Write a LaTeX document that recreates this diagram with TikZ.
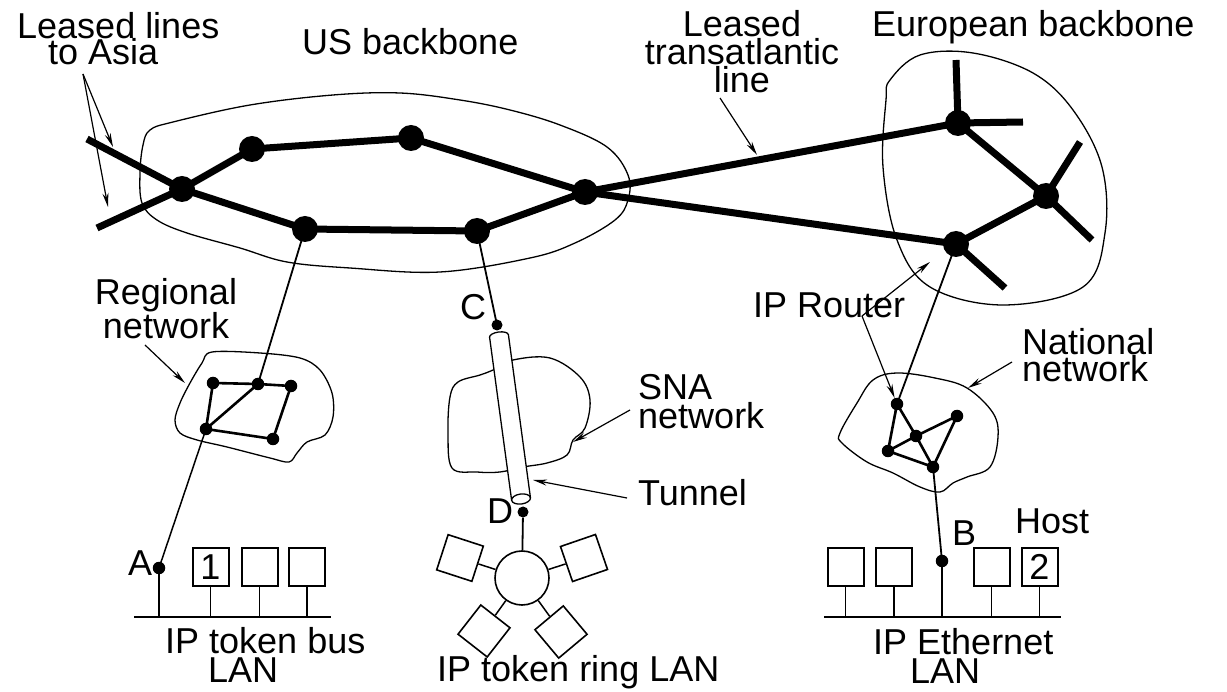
\documentclass[tikz,border=0pt]{standalone}
\usepackage{fontspec}
\setmainfont{Liberation Sans}
\usetikzlibrary{arrows.meta,backgrounds}
\newcommand\labelfont{\fontsize{36}{28}\selectfont}
\newcommand\spacedfont{\fontsize{36}{29.5}\selectfont}

\begin{document}
\begin{tikzpicture}[x=1pt,y=-1pt,
  bigdot/.style={circle,fill,inner sep=0pt,minimum size=26pt},
  dot/.style={circle,fill,inner sep=0pt,minimum size=12.5pt},
  trunk/.style={line width=7pt},
  link/.style={line width=2.6pt},
  wire/.style={line width=1.8pt},
  outline/.style={line width=1.3pt},
  arr/.style={line width=1.2pt,-{Stealth[length=14pt,width=6pt]}},
  host/.style={draw,line width=2pt,minimum width=36pt,minimum height=38pt,inner sep=0pt,font=\labelfont},
  ringhost/.style={draw,line width=1.6pt,minimum size=37pt,inner sep=0pt},
  lbl/.style={inner sep=0pt,font=\labelfont},
]
\useasboundingbox (0,0) rectangle (1227,692);

% ---------- cloud outlines ----------
\draw[outline] plot[smooth cycle,tension=0.6] coordinates {(150,130) (173,122) (250,105) (333,95) (400,93) (460,100) (510,110) (560,125) (607,147) (628,175) (628,200) (615,220) (575,243) (530,258) (440,272) (350,268) (287,262) (240,248) (187,233) (157,220) (142,203) (140,173) (143,145)};
\draw[outline] plot[smooth cycle,tension=0.6] coordinates {(890,80) (920,55) (973,53) (1033,73) (1073,110) (1102,167) (1105,233) (1083,287) (1003,305) (930,287) (897,240) (883,167) (886,100)};
\draw[outline] plot[smooth cycle,tension=0.55] coordinates {(212,352) (260,353) (300,358) (320,370) (332,393) (333,417) (325,435) (307,442) (297,453) (289,462) (270,458) (227,447) (197,440) (180,433) (175,420) (180,403) (190,383) (202,363)};
\draw[outline] plot[smooth cycle,tension=0.6] coordinates {(873,380) (897,373) (935,378) (967,388) (993,413) (998,437) (990,467) (967,477) (953,483) (940,492) (920,487) (893,473) (867,462) (842,443) (840,433) (857,403)};
\draw[outline] plot[smooth cycle,tension=0.6] coordinates {(450,397) (458,382) (480,375) (493,370) (513,360) (550,358) (580,377) (590,400) (585,428) (573,440) (567,455) (547,463) (523,467) (500,472) (477,472) (452,468) (448,433)};

% ---------- backbone routers ----------
\node[bigdot] (n1) at (182,189) {};
\node[bigdot] (n2) at (252,149) {};
\node[bigdot] (n3) at (411,138) {};
\node[bigdot] (n4) at (305,229) {};
\node[bigdot] (n5) at (477,231) {};
\node[bigdot] (n6) at (585,192) {};
\node[bigdot] (e1) at (958,123) {};
\node[bigdot] (e2) at (1046,196) {};
\node[bigdot] (e3) at (956,244) {};

\coordinate (asiaA) at (87,139);
\coordinate (asiaB) at (97,228);
\coordinate (eu1) at (956,60);
\coordinate (eu2) at (1023,122);
\coordinate (eu3) at (1080,142);
\coordinate (eu4) at (1092,240);
\coordinate (eu5) at (1005,288);

% ---------- regional and national routers ----------
\node[dot] (r1) at (213,383) {};
\node[dot] (r2) at (258,384) {};
\node[dot] (r3) at (291,386) {};
\node[dot] (r4) at (206,429) {};
\node[dot] (r5) at (273,439) {};

\node[dot] (na) at (897,404) {};
\node[dot] (nb) at (957,416) {};
\node[dot] (nc) at (916,436) {};
\node[dot] (nd) at (888,451) {};
\node[dot] (ne) at (933,467) {};

\node[dot] (A) at (159,568) {};
\node[dot] (B) at (942,561) {};
\node[dot,minimum size=11pt] (C) at (497,325) {};
\node[dot,minimum size=11pt] (D) at (523,512) {};

\begin{scope}[on background layer]
  \draw[trunk] (asiaA) -- (n1.center) -- (n4.center) -- (n5.center) -- (n6.center);
  \draw[trunk] (asiaB) -- (n1.center) -- (n2.center) -- (n3.center) -- (n6.center);
  \draw[trunk] (n6.center) -- (e1.center);
  \draw[trunk] (n6.center) -- (e3.center);
  \draw[trunk] (e1.center) -- (e2.center) -- (e3.center);
  \draw[trunk] (e1.center) -- (eu1);
  \draw[trunk] (e1.center) -- (eu2);
  \draw[trunk] (e2.center) -- (eu3);
  \draw[trunk] (e2.center) -- (eu4);
  \draw[trunk] (e3.center) -- (eu5);

  \draw[link] (r1.center) -- (r2.center) -- (r3.center) -- (r5.center) -- (r4.center) -- (r1.center);
  \draw[link] (r4.center) -- (r2.center);

  \draw[link] (na.center) -- (nc.center) -- (ne.center);
  \draw[link] (na.center) -- (nd.center) -- (nc.center) -- (nb.center) -- (ne.center) -- (nd.center);

  \draw[wire] (n4.center) -- (r2.center);
  \draw[wire] (n5.center) -- (C.center);
  \draw[wire] (e3.center) -- (na.center);
  \draw[line width=1.5pt] (r4.center) -- (A.center);
  \draw[wire] (ne.center) -- (B.center);
\end{scope}

% ---------- tunnel through the SNA network ----------
\begin{scope}[shift={(499,336)},rotate=7.7]
  \draw[outline,fill=white] (9.5,0) arc[start angle=0,end angle=180,x radius=9.5pt,y radius=4pt]
    -- (-9.5,164.5) arc[start angle=180,end angle=360,x radius=9.5pt,y radius=5pt] -- cycle;
  \draw[outline] (-9.5,164.5) arc[start angle=180,end angle=0,x radius=9.5pt,y radius=5pt];
\end{scope}

% ---------- token ring LAN ----------
\node[circle,draw,line width=1.6pt,minimum size=54pt,inner sep=0pt] (ring) at (522,578) {};
\node[ringhost,rotate=-18] (s1) at (460,558) {};
\node[ringhost,rotate=19] (s2) at (584,558) {};
\node[ringhost,rotate=-38] (s3) at (484,631) {};
\node[ringhost,rotate=40] (s4) at (561,632) {};
\draw[wire] (D) -- (ring);
\draw[line width=1.5pt] (ring) -- (s1);
\draw[line width=1.5pt] (ring) -- (s2);
\draw[line width=1.5pt] (ring) -- (s3);
\draw[line width=1.5pt] (ring) -- (s4);

% ---------- token bus LAN ----------
\coordinate (busL) at (134,617);
\coordinate (busR) at (331,617);
\draw[wire] (busL) -- (busR);
\node[host] (h1) at (210.5,567) {1};
\node[host] (h2) at (259.5,567) {};
\node[host] (h3) at (307,567) {};
\draw[wire] (A.center) -- (A.center |- busL);
\draw[wire] (h1.south) -- (h1.south |- busL);
\draw[wire] (h2.south) -- (h2.south |- busL);
\draw[wire] (h3.south) -- (h3.south |- busL);

% ---------- Ethernet LAN ----------
\coordinate (ethL) at (824,617);
\coordinate (ethR) at (1061,617);
\draw[wire] (ethL) -- (ethR);
\node[host] (g1) at (845.5,567) {};
\node[host] (g2) at (894,567) {};
\node[host] (g3) at (991.5,567) {};
\node[host] (g4) at (1039.5,567) {2};
\draw[wire] (B.center) -- (B.center |- ethL);
\draw[wire] (g1.south) -- (g1.south |- ethL);
\draw[wire] (g2.south) -- (g2.south |- ethL);
\draw[wire] (g3.south) -- (g3.south |- ethL);
\draw[wire] (g4.south) -- (g4.south |- ethL);

% ---------- labels ----------
\node[lbl,anchor=north west,align=left] (tAsia) at (17,12) {Leased lines\\[-1.5pt]\hspace*{31pt}to Asia};
\node[lbl,anchor=base west] (tUS) at (302,55) {US backbone};
\node[lbl,anchor=north,align=center] (tAtl) at (742,10) {Leased\\transatlantic\\line};
\node[lbl,anchor=base west] (tEU) at (872,37) {European backbone};
\node[lbl,anchor=north,align=center] (tReg) at (166,278) {Regional\\network};
\node[lbl,anchor=base west] (tC) at (460,320) {C};
\node[lbl,anchor=base west] (tRouter) at (753,318) {IP Router};
\node[lbl,anchor=north west,align=left] (tNat) at (1022,328) {National\\[-1pt]network};
\node[lbl,anchor=north west,align=left,font=\spacedfont] (tSNA) at (638,374) {SNA\\network};
\node[lbl,anchor=base west] (tTun) at (638,505) {Tunnel};
\node[lbl,anchor=base west] (tD) at (487,524) {D};
\node[lbl,anchor=base west] (tA) at (128,575) {A};
\node[lbl,anchor=base west] (tB) at (952,545) {B};
\node[lbl,anchor=base west] (tHost) at (1015,533) {Host};
\node[lbl,anchor=north west,align=left,font=\spacedfont] (tBus) at (165,627) {IP token bus\\\hspace*{43pt}LAN};
\node[lbl,anchor=base west] (tRing) at (437,681) {IP token ring LAN};
\node[lbl,anchor=north west,align=left,font=\spacedfont] (tEth) at (873,628) {IP Ethernet\\\hspace*{37pt}LAN};

% ---------- pointer arrows ----------
\coordinate (asiaFrom) at (83,74);
\coordinate (asiaTo1) at (113,147);
\coordinate (asiaTo2) at (108,207);
\draw[arr] (asiaFrom) -- (asiaTo1);
\draw[arr] (asiaFrom) -- (asiaTo2);

\coordinate (atlFrom) at (720,98);
\coordinate (atlTo) at (757,155);
\draw[arr] (atlFrom) -- (atlTo);

\coordinate (regFrom) at (145,345);
\coordinate (regTo) at (185,383);
\draw[arr] (regFrom) -- (regTo);

\coordinate (snaFrom) at (630,410);
\coordinate (snaTo) at (573,442);
\draw[arr] (snaFrom) -- (snaTo);

\coordinate (tunFrom) at (627,498);
\coordinate (tunTo) at (533,480);
\draw[arr] (tunFrom) -- (tunTo);

\coordinate (natFrom) at (1012,362);
\coordinate (natTo) at (968,388);
\draw[arr] (natFrom) -- (natTo);

\coordinate (rtFrom) at (862,316);
\coordinate (rtTo1) at (930,262);
\draw[arr] (rtFrom) -- (rtTo1);
\draw[arr] (rtFrom) -- (na);
\end{tikzpicture}
\end{document}
